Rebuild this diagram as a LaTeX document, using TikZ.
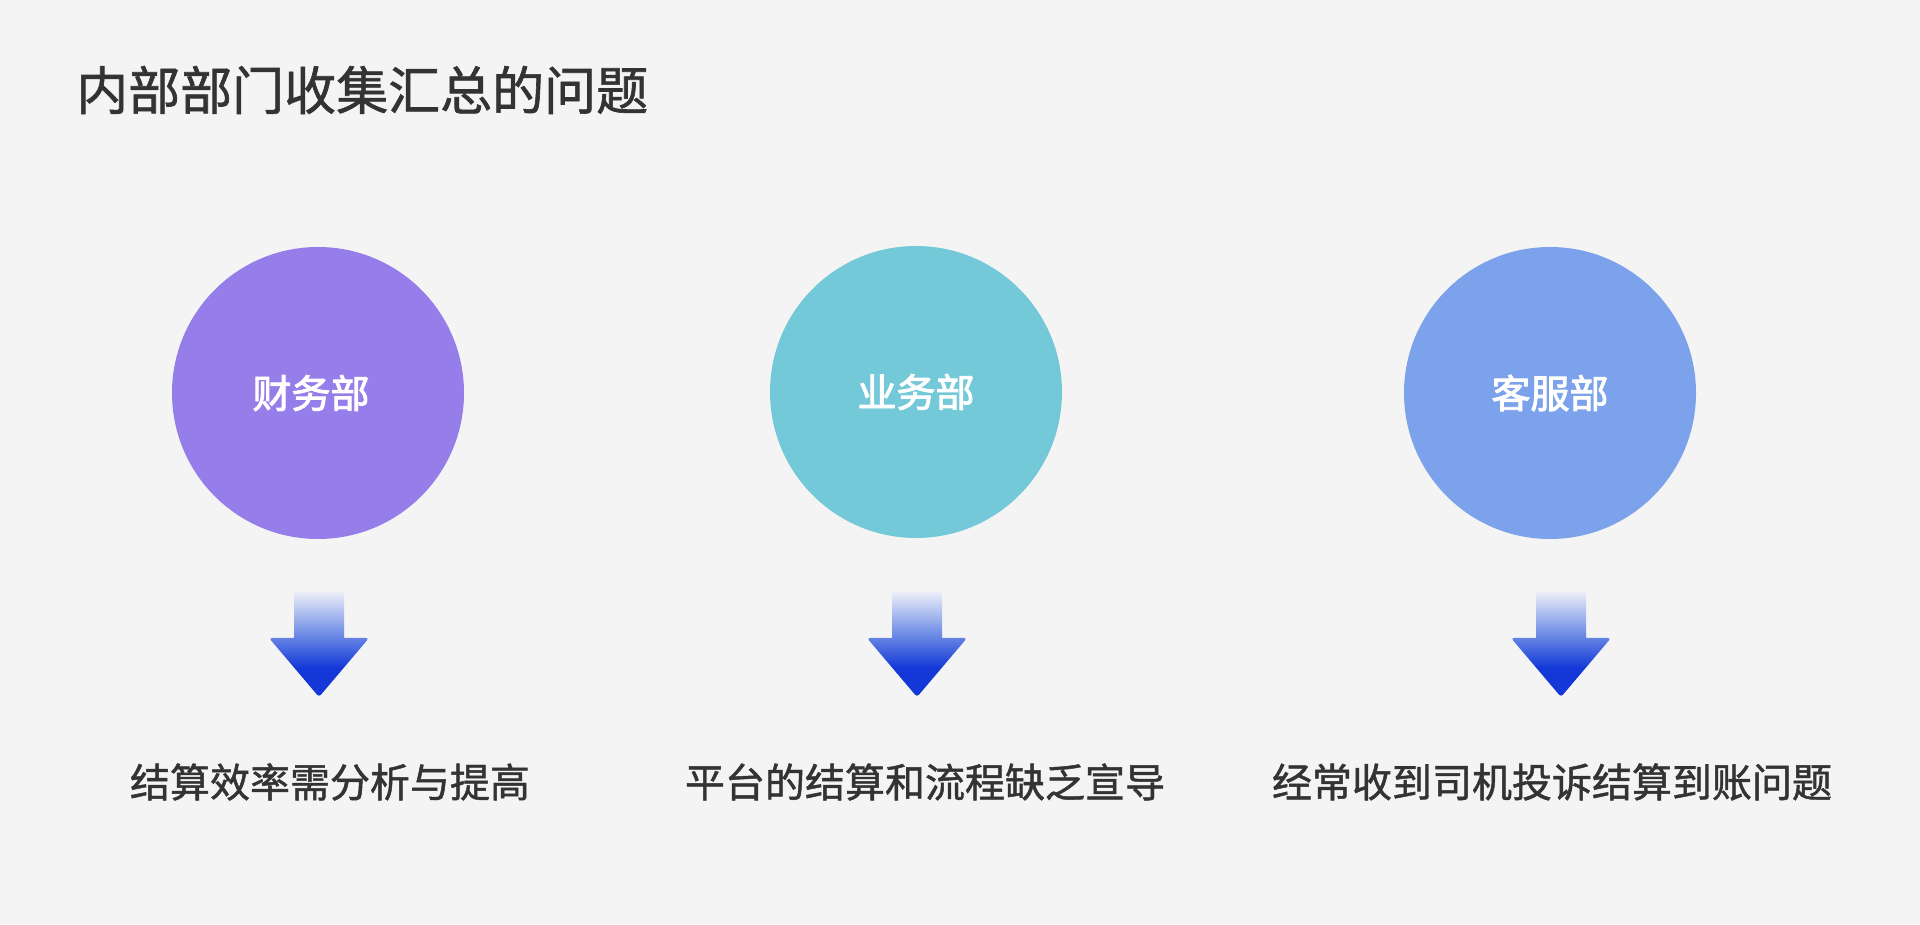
\documentclass[tikz,border=0pt]{standalone}
\usepackage{fontspec}
\newfontfamily\cjk[FakeBold=1.2]{Noto Sans CJK SC}
\newfontfamily\cjkdam[FakeBold=2.4]{Noto Sans CJK SC}
\definecolor{nen}{HTML}{F4F4F4}
\definecolor{chuxam}{HTML}{333333}
\definecolor{tim}{HTML}{957DEA}
\definecolor{xanhngoc}{HTML}{74C9D9}
\definecolor{xanhtroi}{HTML}{7BA2EA}
\definecolor{xanhdam}{HTML}{1438D8}
\definecolor{xanhgiua}{HTML}{6282E4}
\definecolor{xanhnhat}{HTML}{ECEEF8}
\pgfdeclareverticalshading{muiten}{100bp}{color(0bp)=(xanhdam); color(39bp)=(xanhdam); color(53bp)=(xanhgiua); color(75bp)=(xanhnhat); color(100bp)=(xanhnhat)}
\begin{document}
\begin{tikzpicture}[x=1pt,y=1pt,font=\cjk,
    vong/.style={circle,minimum size=292pt,inner sep=0pt},
    chuvong/.style={inner sep=0pt,text=white,font=\cjkdam\fontsize{39}{39}\selectfont},
    nhan/.style={inner sep=0pt,text=chuxam,font=\cjk\fontsize{40}{40}\selectfont}]
    \fill[nen] (0,0) rectangle (1920,924);
    \useasboundingbox (0,0) rectangle (1920,924);
    \node[anchor=west,inner sep=0pt,text=chuxam,font=\cjk\fontsize{52}{52}\selectfont] (tieude) at (76,834) {内部部门收集汇总的问题};
    \foreach \ten/\x/\y/\dx/\mau/\phong in {cw/318/531/-7/tim/财务部,yw/916/532/0/xanhngoc/业务部,kf/1550/531/0/xanhtroi/客服部}
        \node[vong,fill=\mau,label={[chuvong,xshift=\dx]center:\phong}] (\ten) at (\x,\y) {};
    \foreach \ten/\x in {cw/319,yw/917,kf/1561}{
        \coordinate (m\ten) at (\x,227);
        \shade[shading=muiten] (\x-25,332)--(\x-25,286)[rounded corners=3pt]--(\x-50,286)--(m\ten)--(\x+50,286)[sharp corners]--(\x+25,286)--(\x+25,332)--cycle;
    }
    \foreach \ten/\x/\noidung in {cw/330/结算效率需分析与提高,yw/925/平台的结算和流程缺乏宣导,kf/1552/经常收到司机投诉结算到账问题}
        \node[nhan] (n\ten) at (\x,142) {\noidung};
\end{tikzpicture}
\end{document}
